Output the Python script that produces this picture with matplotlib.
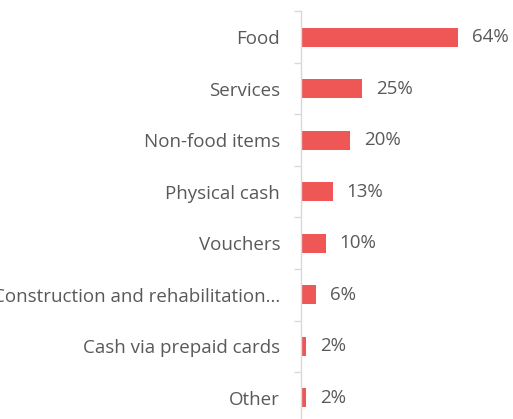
import matplotlib.pyplot as plt
import numpy as np

categorias = ["Food", "Services", "Non-food items", "Physical cash", "Vouchers",
              "Construction and rehabilitation...", "Cash via prepaid cards", "Other"]
valores = [64, 25, 20, 13, 10, 6, 2, 2]
etiquetas = ["64%", "25%", "20%", "13%", "10%", "6%", "2%", "2%"]

rojo = "#EF5656"
gris_texto = "#595959"
gris_eje = "#D9D9D9"

plt.rcParams["font.family"] = ["Open Sans", "DejaVu Sans"]

fig = plt.figure(figsize=(5.13, 4.19), dpi=100)
ax = fig.add_axes([301 / 513, -4.5 / 419, 212 / 513, 412 / 419])

y = np.arange(len(categorias))
ax.barh(y, valores, height=0.36, color=rojo)

for yi, v, txt in zip(y, valores, etiquetas):
    ax.annotate(txt, (v, yi), xytext=(10, 0), textcoords="offset points",
                va="center", ha="left", fontsize=13.5, color=gris_texto)

ax.set_xlim(0, 86.5)
ax.set_ylim(len(categorias) - 0.5, -0.5)

ax.set_yticks(y)
ax.set_yticklabels(categorias, fontsize=13.5, color=gris_texto)
ax.tick_params(axis="y", which="major", length=0, pad=15)
ax.set_yticks(np.arange(len(categorias) + 1) - 0.5, minor=True)
ax.tick_params(axis="y", which="minor", length=5, width=1, color=gris_eje)

ax.set_xticks([])
for lado in ["top", "right", "bottom"]:
    ax.spines[lado].set_visible(False)
ax.spines["left"].set_color(gris_eje)
ax.spines["left"].set_linewidth(1)

fig.savefig("out.png", dpi=100)
